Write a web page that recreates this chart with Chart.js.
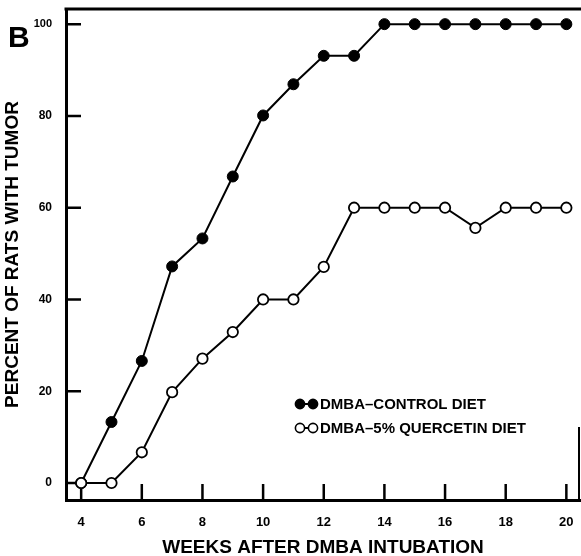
<!DOCTYPE html>
<html><head><meta charset="utf-8">
<script src="https://cdn.jsdelivr.net/npm/chart.js@4/dist/chart.umd.min.js"></script>
<style>html,body{margin:0;padding:0;background:#fff}#wrap{width:581px;height:556px}</style>
</head><body><div id="wrap"><canvas id="c" width="581" height="556"></canvas></div>
<script>
const weeks = [4,5,6,7,8,9,10,11,12,13,14,15,16,17,18,19,20];
const controlDiet = [0,13.3,26.6,47.2,53.3,66.8,80.1,86.9,93.1,93.1,100,100,100,100,100,100,100];
const quercetinDiet = [0,0,6.7,19.8,27.1,32.9,40,40,47.1,60,60,60,60,55.6,60,60,60];
const xTickValues = [4,6,8,10,12,14,16,18,20];
const yTickValues = [0,20,40,60,80,100];
const seriesLabels = ['DMBA\u2013CONTROL DIET','DMBA\u20135% QUERCETIN DIET'];
const xTitle = 'WEEKS AFTER DMBA INTUBATION';
const yTitle = 'PERCENT OF RATS WITH TUMOR';
const panelLabel = 'B';

const FONT = '"Liberation Sans", Arial, sans-serif';

const framePlugin = {
  id: 'frame',
  beforeDatasetsDraw(chart) {
    const {ctx, chartArea: a, scales} = chart;
    ctx.save();
    ctx.strokeStyle = '#000';
    ctx.lineWidth = 3;
    ctx.beginPath();
    ctx.moveTo(a.left - 1.5, a.top);
    ctx.lineTo(chart.width, a.top);
    ctx.stroke();
    ctx.lineWidth = 2.5;
    ctx.beginPath();
    scales.y.ticks.forEach(t => {
      const y = scales.y.getPixelForValue(t.value);
      ctx.moveTo(a.left, y); ctx.lineTo(a.left + 15, y);
    });
    scales.x.ticks.forEach(t => {
      const x = scales.x.getPixelForValue(t.value);
      ctx.moveTo(x, a.bottom); ctx.lineTo(x, a.bottom - 16);
    });
    ctx.stroke();
    ctx.lineWidth = 2;
    ctx.beginPath();
    ctx.moveTo(a.right - 1, a.bottom);
    ctx.lineTo(a.right - 1, a.bottom - 73);
    ctx.stroke();
    ctx.restore();
  },
  afterDraw(chart) {
    const {ctx} = chart;
    ctx.save();
    ctx.fillStyle = '#000';
    ctx.font = 'bold 30px ' + FONT;
    ctx.textBaseline = 'alphabetic';
    ctx.textAlign = 'left';
    ctx.fillText(panelLabel, 8, 47);
    const rows = [404, 428];
    chart.data.datasets.slice().sort((p,q)=>p.legendIndex-q.legendIndex).forEach((ds, i) => {
      const y = rows[i];
      ctx.strokeStyle = '#000';
      ctx.lineWidth = 2;
      ctx.beginPath(); ctx.moveTo(300, y); ctx.lineTo(313, y); ctx.stroke();
      [300, 313].forEach(cx => {
        ctx.beginPath(); ctx.arc(cx, y, 4.6, 0, Math.PI * 2);
        ctx.fillStyle = ds.pointBackgroundColor; ctx.fill();
        ctx.lineWidth = 1.6; ctx.stroke();
      });
      ctx.fillStyle = '#000';
      ctx.font = 'bold 15px ' + FONT;
      ctx.textBaseline = 'middle';
      ctx.fillText(ds.label, 320, y + 1);
    });
    ctx.restore();
  }
};

const toPts = arr => weeks.map((w, i) => ({x: w, y: arr[i]}));

new Chart(document.getElementById('c'), {
  type: 'line',
  data: {
    datasets: [
      {
        label: seriesLabels[0], legendIndex: 0, order: 1,
        data: toPts(controlDiet),
        borderColor: '#000', borderWidth: 2,
        pointBackgroundColor: '#000', pointBorderColor: '#000',
        pointRadius: 5.5, pointBorderWidth: 1, tension: 0
      },
      {
        label: seriesLabels[1], legendIndex: 1, order: 0,
        data: toPts(quercetinDiet),
        borderColor: '#000', borderWidth: 2,
        pointBackgroundColor: '#fff', pointBorderColor: '#000',
        pointRadius: 5.2, pointBorderWidth: 1.8, tension: 0
      }
    ]
  },
  options: {
    responsive: false,
    animation: false,
    devicePixelRatio: 1,
    layout: {autoPadding: false, padding: {top: 9, right: 1, left: 0, bottom: 0}},
    plugins: {legend: {display: false}, tooltip: {enabled: false}},
    elements: {line: {borderCapStyle: 'round'}},
    scales: {
      x: {
        type: 'linear', min: 3.5, max: 20.45,
        afterBuildTicks: s => { s.ticks = xTickValues.map(v => ({value: v})); },
        afterFit: s => { s.height = 56; s.paddingLeft = 0; s.paddingRight = 0; },
        grid: {display: false, drawTicks: false},
        border: {display: true, color: '#000', width: 3},
        ticks: {color: '#000', padding: 15, maxRotation: 0, autoSkip: false,
          font: {family: FONT, size: 13, weight: 'bold'}},
        title: {display: true, text: xTitle, color: '#000', padding: {top: 0, bottom: 0},
          font: {family: FONT, size: 19, weight: 'bold', lineHeight: 0.85}}
      },
      y: {
        type: 'linear', min: -3.7, max: 103.3,
        afterBuildTicks: s => { s.ticks = yTickValues.map(v => ({value: v})); },
        afterFit: s => { s.width = 66; s.paddingTop = 0; s.paddingBottom = 0; },
        grid: {display: false, drawTicks: false},
        border: {display: true, color: '#000', width: 3},
        ticks: {color: '#000', padding: 14, autoSkip: false,
          font: ctx => ({family: FONT, size: (ctx.tick && ctx.tick.value === 100) ? 11 : 12, weight: 'bold'})},
        title: {display: true, text: yTitle, color: '#000', padding: {top: 3, bottom: 0},
          font: {family: FONT, size: 19, weight: 'bold', lineHeight: 1.05}}
      }
    }
  },
  plugins: [framePlugin]
});
</script></body></html>
